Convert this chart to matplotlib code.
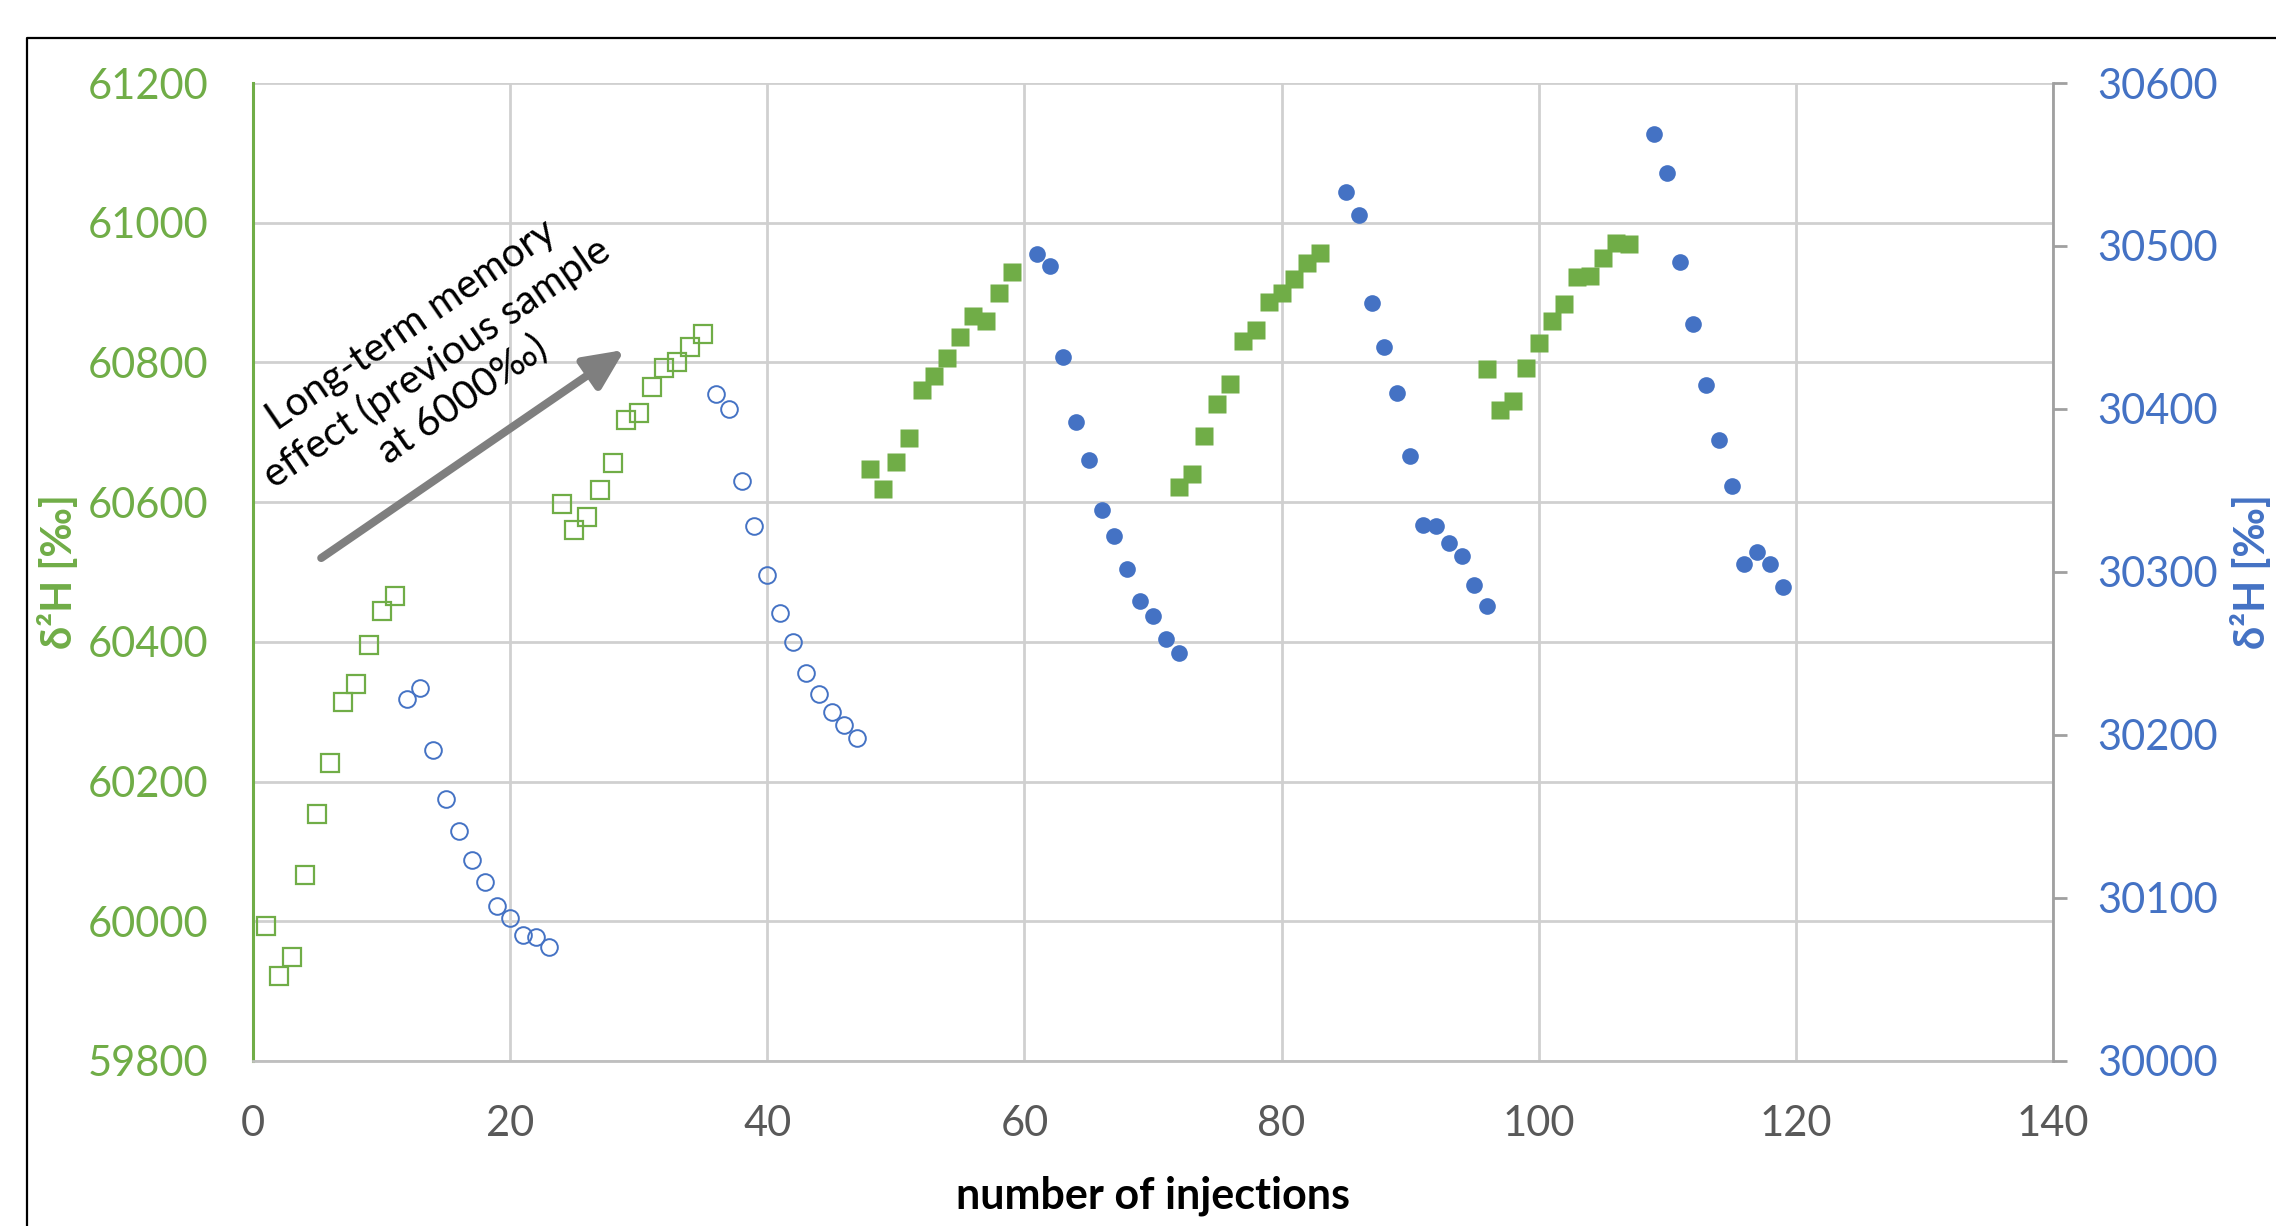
import matplotlib
matplotlib.use('Agg')
import matplotlib.pyplot as plt
from matplotlib.lines import Line2D

plt.rcParams['font.family'] = ['Lato', 'DejaVu Sans']

green = '#70AD47'
blue = '#4472C4'

# first sample (open markers)
open_sq_x = list(range(1, 12)) + list(range(24, 36))
open_sq_y = [59993, 59922, 59949, 60066, 60154, 60227, 60314, 60340, 60396, 60444, 60465,
             60598, 60560, 60579, 60617, 60656, 60717, 60727, 60765, 60792, 60801, 60822, 60840]
open_ci_x = list(range(12, 24)) + list(range(36, 48))
open_ci_y = [30222, 30229, 30191, 30161, 30141, 30123, 30110, 30095, 30088, 30077, 30076, 30070,
             30409, 30400, 30356, 30328, 30298, 30275, 30257, 30238, 30225, 30214, 30206, 30198]

# later injections (filled markers)
fill_sq_x = list(range(48, 60)) + list(range(72, 84)) + list(range(96, 108))
fill_sq_y = [60648, 60619, 60657, 60692, 60761, 60780, 60807, 60836, 60866, 60859, 60899, 60930,
             60621, 60640, 60694, 60740, 60769, 60830, 60846, 60886, 60900, 60919, 60942, 60957,
             60790, 60732, 60745, 60792, 60828, 60859, 60884, 60922, 60924, 60949, 60971, 60970]
fill_ci_x = list(range(61, 73)) + list(range(85, 97)) + list(range(109, 120))
fill_ci_y = [30495, 30488, 30432, 30392, 30369, 30338, 30322, 30302, 30282, 30273, 30259, 30250,
             30533, 30519, 30465, 30438, 30410, 30371, 30329, 30328, 30318, 30310, 30292, 30279,
             30569, 30545, 30490, 30452, 30415, 30381, 30353, 30305, 30312, 30305, 30291]

x_ticks = list(range(0, 141, 20))
left_ticks = list(range(59800, 61201, 200))
right_ticks = list(range(30000, 30601, 100))

fig = plt.figure(figsize=(11.38, 6.13), dpi=200)
ax = fig.add_axes([0.1112, 0.1346, 0.7908, 0.7977])
ax2 = ax.twinx()

ax.plot(open_sq_x, open_sq_y, 's', ms=6.2, mfc='none', mec=green, mew=0.8, zorder=3)
ax.plot(fill_sq_x, fill_sq_y, 's', ms=6.4, color=green, mec='none', zorder=3)
ax2.plot(open_ci_x, open_ci_y, 'o', ms=6.0, mfc='none', mec=blue, mew=0.7)
ax2.plot(fill_ci_x, fill_ci_y, 'o', ms=6.0, color=blue, mec='none')

ax.set_xlim(0, 140)
ax.set_ylim(59800, 61200)
ax2.set_ylim(30000, 30600)
ax.set_xticks(x_ticks)
ax.set_yticks(left_ticks)
ax2.set_yticks(right_ticks)

ax.grid(True, color='#d0d0d0', lw=1.0)
ax.set_axisbelow(True)

for a in (ax, ax2):
    a.spines['top'].set_visible(False)
ax.spines['left'].set_color(green)
ax.spines['left'].set_linewidth(1.1)
ax.spines['bottom'].set_color('#bfbfbf')
ax.spines['bottom'].set_linewidth(1.0)
ax.spines['right'].set_visible(False)
ax2.spines['left'].set_visible(False)
ax2.spines['bottom'].set_visible(False)
ax2.spines['right'].set_color('#a0a0a0')
ax2.spines['right'].set_linewidth(1.0)

ax.tick_params(axis='x', length=0, pad=16, labelsize=15, labelcolor='#595959')
ax.tick_params(axis='y', length=0, pad=16, labelsize=15, labelcolor=green)
ax2.tick_params(axis='y', length=5, width=1.0, color='#a0a0a0', pad=11, labelsize=15, labelcolor=blue)

ax.set_xlabel('number of injections', fontsize=15.5, fontweight='bold', color='black')
ax.xaxis.set_label_coords(0.5, -0.117)
ax.set_ylabel('δ²H [‰]', fontsize=15, fontweight='bold', color=green)
ax.yaxis.set_label_coords(-0.097, 0.5)
ax2.set_ylabel('δ²H [‰]', fontsize=15, fontweight='bold', color=blue, rotation=90)
ax2.yaxis.set_label_coords(1.099, 0.5)

# annotation arrow + text
ax.annotate('', xy=(28.9, 60818), xytext=(5.3, 60520),
            arrowprops=dict(arrowstyle='-|>,head_length=0.6,head_width=0.28',
                            color='#7f7f7f', lw=2.9, mutation_scale=20, shrinkA=0, shrinkB=0))
ax.text(14.3, 60800, 'Long-term memory\neffect (previous sample\nat 6000‰)',
        rotation=34.5, rotation_mode='anchor', ha='center', va='center',
        multialignment='center', fontsize=14.5, linespacing=1.25, color='black')

# chart border (only top/left visible in the crop)
fig.add_artist(Line2D([0.0119, 0.0119, 1.0], [0.0, 0.969, 0.969], color='black', lw=0.8,
                      transform=fig.transFigure))

fig.savefig('out.png', dpi=200)
